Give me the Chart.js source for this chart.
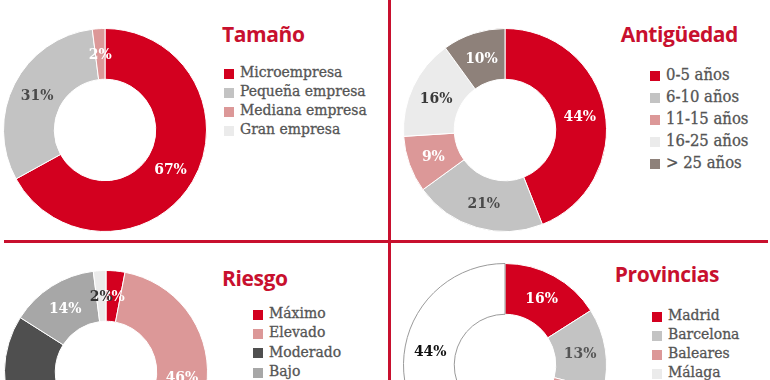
<!DOCTYPE html>
<html>
<head>
<meta charset="utf-8">
<script src="https://cdn.jsdelivr.net/npm/chart.js@4.4.1/dist/chart.umd.min.js"></script>
<style>
  html, body { margin: 0; padding: 0; background: #fff; }
  body { width: 770px; height: 380px; overflow: hidden; position: relative; }
  canvas { position: absolute; }
  .div { position: absolute; background: #c8102e; }
  .title { position: absolute; font-family: "Open Sans", sans-serif; font-weight: 700; font-size: 21px; color: #c8102e; line-height: 1; white-space: nowrap; letter-spacing: -0.4px; }
  .legend { position: absolute; font-family: "DejaVu Serif Condensed", "DejaVu Serif", serif; font-size: 15.5px; color: #555; white-space: nowrap; -webkit-text-stroke: 0.3px #555; }
  .legend div { position: relative; padding-left: 16px; }
  .legend span { position: absolute; left: 0; width: 10px; height: 10px; }
</style>
</head>
<body>
<script>
// ---- DATA ----
const sizeLabels = ["Microempresa", "Pequeña empresa", "Mediana empresa", "Gran empresa"];
const sizeValues = [67, 31, 2, 0];

const ageLabels = ["0-5 años", "6-10 años", "11-15 años", "16-25 años", "> 25 años"];
const ageValues = [44, 21, 9, 16, 10];

const riskLabels = ["Máximo", "Elevado", "Moderado", "Bajo", "Mínimo"];
const riskValues = [3, 46, 35, 14, 2];

const provLabels = ["Madrid", "Barcelona", "Baleares", "Málaga", "Valencia", "Otras"];
const provValues = [16, 13, 10, 9, 8, 44];

// ---- STYLES ----
const RED = "#d3001f", GRAY = "#c3c3c3", PINK = "#dc9898", LIGHT = "#ebebeb",
      BROWN = "#8e817a", DARK = "#4f4f4f", MID = "#a7a7a7", WHITE = "#ffffff";

const panels = [
  { title: "Tamaño", labels: sizeLabels, values: sizeValues,
    colors: [RED, GRAY, PINK, LIGHT], text: ["#fff", "#4a4a4a", "#fff", "#4a4a4a"],
    borders: null, fs: 15.5,
    canvas: { left: 3, top: 28 }, titlePos: { left: 222, top: 24, align: "left" },
    legend: { left: 224, top: 63, lh: 19 } },
  { title: "Antigüedad", labels: ageLabels, values: ageValues,
    colors: [RED, GRAY, PINK, LIGHT, BROWN], text: ["#fff", "#4a4a4a", "#fff", "#3a3a3a", "#fff"],
    borders: null, fs: 16.5,
    canvas: { left: 403, top: 28 }, titlePos: { right: 770 - 738, top: 24, align: "right" },
    legend: { left: 650, top: 64, lh: 22 } },
  { title: "Riesgo", labels: riskLabels, values: riskValues,
    colors: [RED, PINK, DARK, MID, LIGHT], text: ["#fff", "#fff", "#fff", "#fff", "#333"],
    borders: null, fs: 15.5,
    canvas: { left: 4, top: 270 }, titlePos: { left: 222, top: 268, align: "left" },
    legend: { left: 253, top: 304, lh: 19.4 } },
  { title: "Provincias", labels: provLabels, values: provValues,
    colors: [RED, GRAY, PINK, LIGHT, BROWN, WHITE], text: ["#fff", "#555", "#fff", "#444", "#fff", "#111"],
    borders: ["#fff", "#fff", "#fff", "#fff", "#fff", "#9a9a9a"], fs: 15.5,
    canvas: { left: 403, top: 263 }, titlePos: { right: 770 - 719, top: 264, align: "right" },
    legend: { left: 652, top: 306, lh: 19 } }
];

// dividers
function addDiv(l, t, w, h) {
  const d = document.createElement("div");
  d.className = "div";
  Object.assign(d.style, { left: l + "px", top: t + "px", width: w + "px", height: h + "px" });
  document.body.appendChild(d);
}
addDiv(388, 0, 3, 380);
addDiv(4, 240, 764, 3);

const pctLabels = {
  id: "pctLabels",
  afterDatasetsDraw(chart, args, opts) {
    const ctx = chart.ctx;
    const ds = chart.data.datasets[0];
    chart.getDatasetMeta(0).data.forEach((arc, i) => {
      const v = ds.data[i];
      if (!v) return;
      const p = arc.tooltipPosition();
      ctx.save();
      ctx.font = "bold 15.5px 'DejaVu Serif Condensed', 'DejaVu Serif', serif";
      ctx.fillStyle = opts.colors[i];
      ctx.textAlign = "center";
      ctx.textBaseline = "middle";
      ctx.fillText(v + "%", p.x, p.y + 1);
      ctx.restore();
    });
  }
};

panels.forEach(p => {
  const c = document.createElement("canvas");
  c.width = 204; c.height = 204;
  c.style.left = p.canvas.left + "px";
  c.style.top = p.canvas.top + "px";
  document.body.appendChild(c);

  new Chart(c, {
    type: "doughnut",
    data: {
      labels: p.labels,
      datasets: [{
        data: p.values,
        backgroundColor: p.colors,
        borderColor: p.borders || "#ffffff",
        borderWidth: 1
      }]
    },
    options: {
      responsive: false,
      animation: false,
      cutout: "50%",
      plugins: {
        legend: { display: false },
        tooltip: { enabled: false },
        pctLabels: { colors: p.text }
      }
    },
    plugins: [pctLabels]
  });

  const t = document.createElement("div");
  t.className = "title";
  t.textContent = p.title;
  t.style.top = p.titlePos.top + "px";
  if (p.titlePos.align === "left") t.style.left = p.titlePos.left + "px";
  else t.style.right = p.titlePos.right + "px";
  document.body.appendChild(t);

  const lg = document.createElement("div");
  lg.className = "legend";
  lg.style.left = p.legend.left + "px";
  lg.style.top = p.legend.top + "px";
  lg.style.fontSize = p.fs + "px";
  p.labels.forEach((lab, i) => {
    const it = document.createElement("div");
    it.style.height = p.legend.lh + "px";
    it.style.lineHeight = p.legend.lh + "px";
    const sq = document.createElement("span");
    sq.style.background = p.colors[i] === WHITE ? "#f4f4f4" : p.colors[i];
    sq.style.top = (p.legend.lh / 2 - 4) + "px";
    it.appendChild(sq);
    it.appendChild(document.createTextNode(lab));
    lg.appendChild(it);
  });
  document.body.appendChild(lg);
});
</script>
</body>
</html>
